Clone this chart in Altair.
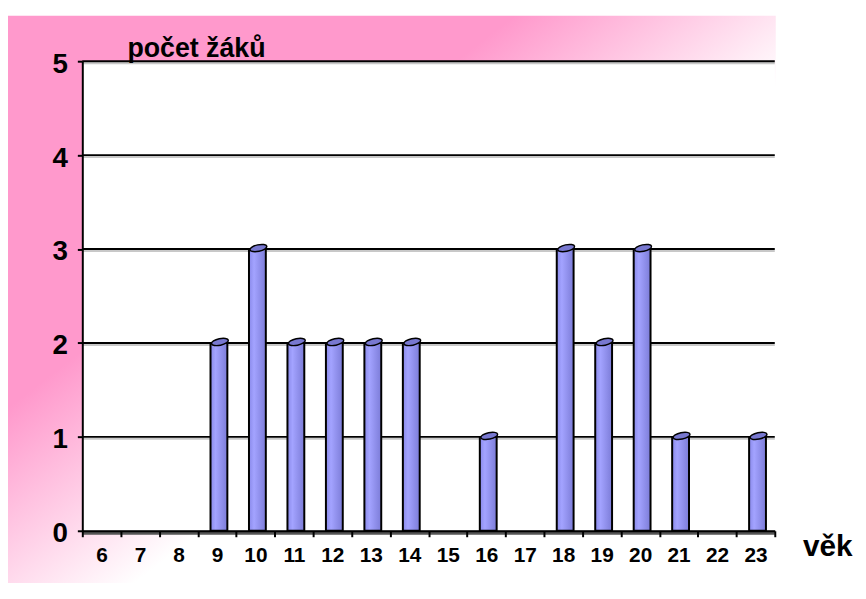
import altair as alt
import pandas as pd

ages = ["6", "7", "8", "9", "10", "11", "12", "13", "14", "15", "16", "17", "18", "19", "20", "21", "22", "23"]
counts = [0, 0, 0, 2, 3, 2, 2, 2, 2, 0, 1, 0, 3, 2, 3, 1, 0, 1]
grid_values = [1, 2, 3, 4, 5]

W, H = 699, 474
FONT = "Liberation Sans"

df = pd.DataFrame({"age": ages, "count": counts})
grid_df = pd.DataFrame({"v": grid_values})

x_scale = alt.Scale(domain=ages, paddingInner=0, paddingOuter=0)
y_scale = alt.Scale(domain=[0, 5], nice=False)

bg_grad = alt.LinearGradient(
    gradient="linear", x1=0, y1=0, x2=1, y2=1,
    stops=[alt.GradientStop(offset=0, color="#FF99CC"),
           alt.GradientStop(offset=0.33, color="#FF99CC"),
           alt.GradientStop(offset=0.56, color="#FFFFFF"),
           alt.GradientStop(offset=1, color="#FFFFFF")])

bar_grad = alt.LinearGradient(
    gradient="linear", x1=0, y1=0, x2=1, y2=0,
    stops=[alt.GradientStop(offset=0, color="#8A8AEA"),
           alt.GradientStop(offset=0.3, color="#A3A3FF"),
           alt.GradientStop(offset=1, color="#7C7CD8")])

one = alt.Data(values=[{"a": 1}])

background = alt.Chart(one).mark_rect(fill=bg_grad, strokeWidth=0).encode(
    x=alt.value(-75), x2=alt.value(W + 1), y=alt.value(-46), y2=alt.value(H + 80))
plot_bg = alt.Chart(one).mark_rect(fill="white", strokeWidth=0).encode(
    x=alt.value(0), x2=alt.value(W), y=alt.value(0), y2=alt.value(H))

grid_shadow = alt.Chart(grid_df).mark_rule(color="#C8C8C8", strokeWidth=2, yOffset=2).encode(
    y=alt.Y("v:Q", scale=y_scale), x=alt.value(0), x2=alt.value(W))
grid = alt.Chart(grid_df).mark_rule(color="black", strokeWidth=2).encode(
    y=alt.Y("v:Q", scale=y_scale), x=alt.value(0), x2=alt.value(W))

floor = alt.Chart(one).mark_rule(color="#555555", strokeWidth=4).encode(
    y=alt.value(H + 2), x=alt.value(0), x2=alt.value(W))

bars = alt.Chart(df).transform_filter("datum.count > 0").mark_bar(
    size=17, fill=bar_grad, stroke="black", strokeWidth=2, xOffset=2, cornerRadius=0
).encode(
    x=alt.X("age:N", scale=x_scale, sort=ages,
            axis=alt.Axis(title="věk", labelAngle=0, tickBand="extent", tickSize=6,
                          tickWidth=2, tickColor="black", domainColor="black", domainWidth=2,
                          labelFontSize=21, labelFont=FONT, labelFontWeight="bold",
                          labelColor="black", labelPadding=8, labelBaseline="top",
                          titleFont=FONT, titleFontSize=30, titleFontWeight="bold",
                          titleColor="black", titleX=W + 28, titleY=25, titleAlign="left",
                          titleBaseline="alphabetic", titleAnchor="start", zindex=1, grid=False)),
    y=alt.Y("count:Q", scale=y_scale,
            axis=alt.Axis(title="počet žáků", values=[0, 1, 2, 3, 4, 5], format="d",
                          tickSize=5, tickWidth=2, tickColor="black", domainColor="black",
                          domainWidth=2, labelFontSize=28, labelFont=FONT,
                          labelFontWeight="bold", labelColor="black", labelPadding=10,
                          labelOffset=3,
                          titleFont=FONT, titleFontSize=27, titleFontWeight="bold",
                          titleColor="black", titleAngle=0, titleX=45, titleY=-5,
                          titleAlign="left", titleBaseline="alphabetic", zindex=1, grid=False)),
)

cap_shape = "M -1 0 A 1 0.38 0 1 0 1 0 A 1 0.38 0 1 0 -1 0 Z"
caps = alt.Chart(df).transform_filter("datum.count > 0").mark_point(
    shape=cap_shape, size=300, filled=True, fill="#7878D0", stroke="black",
    strokeWidth=1.5, opacity=1, angle=348, xOffset=3, yOffset=-1
).encode(
    x=alt.X("age:N", scale=x_scale, sort=ages),
    y=alt.Y("count:Q", scale=y_scale),
)

chart = alt.layer(background, plot_bg, grid_shadow, grid, floor, bars, caps).properties(
    width=W, height=H,
    autosize=alt.AutoSizeParams(type="none"),
    padding={"left": 75, "top": 51, "right": 84, "bottom": 50},
).configure_view(strokeWidth=0)

chart.save("out.html", embed_options={"renderer": "svg", "actions": False})
